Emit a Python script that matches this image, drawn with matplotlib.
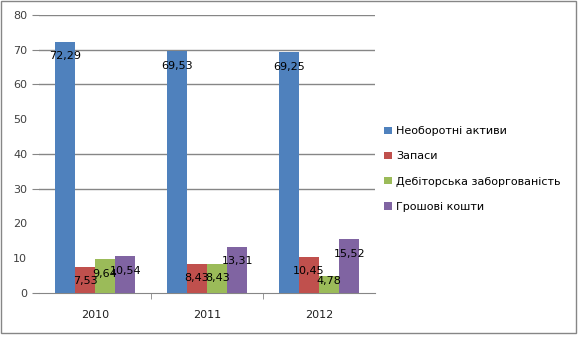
#!/usr/bin/env python3
import matplotlib
matplotlib.use('Agg')
import matplotlib.pyplot as plt
import numpy as np
from matplotlib.patches import Rectangle

years = ['2010', '2011', '2012']
series_names = ['Необоротні активи', 'Запаси', 'Дебіторська заборгованість', 'Грошові кошти']
noncurrent = [72.29, 69.53, 69.25]
stocks = [7.53, 8.43, 10.45]
receivables = [9.64, 8.43, 4.78]
cash = [10.54, 13.31, 15.52]
colors = ['#4F81BD', '#C0504D', '#9BBB59', '#8064A2']

def fmt(v):
    return f'{v:.2f}'.replace('.', ',')

fig = plt.figure(figsize=(5.78, 3.37), dpi=100)
ax = fig.add_axes([0.0675, 0.1306, 0.5815, 0.8249])

x = np.arange(len(years))
w = 0.18
all_series = [noncurrent, stocks, receivables, cash]
for i, (vals, name, c) in enumerate(zip(all_series, series_names, colors)):
    pos = x + (i - 1.5) * w
    ax.bar(pos, vals, w, color=c, label=name, zorder=3)
    for px, v in zip(pos, vals):
        # inside-end labels, like the spreadsheet does it
        off = -4.2 if v > 6 else -1.2
        ax.text(px, v + off, fmt(v), ha='center', va='center', fontsize=8,
                color='black', zorder=4)

ax.set_xlim(-0.5, 2.5)
ax.set_ylim(0, 80)
ax.set_yticks(range(0, 81, 10))
ax.set_xticks([0.5, 1.5], minor=True)
ax.set_xticks(x)
ax.set_xticklabels(years)
grid_at = [30, 40, 60, 70, 80]
for gy in grid_at:
    ax.axhline(gy, color='#868686', lw=1, zorder=1)

for s in ['top', 'right', 'left']:
    ax.spines[s].set_visible(False)
ax.spines['bottom'].set_color('#868686')
ax.tick_params(axis='y', colors='#868686', labelcolor='#404040', labelsize=8, length=5, direction='out')
ax.tick_params(axis='x', which='major', length=0, labelsize=8, labelcolor='#202020', pad=12)
ax.tick_params(axis='x', which='minor', length=4, color='#868686', direction='out')
for t, val in zip(ax.yaxis.get_major_ticks(), range(0, 81, 10)):
    if val not in grid_at and val != 0:
        t.tick1line.set_visible(False)

ax.legend(loc='center left', bbox_to_anchor=(0.996, 0.446), frameon=False, fontsize=8,
          handlelength=0.7, handleheight=0.7, labelspacing=1.35, handletextpad=0.4)

fig.patches.append(Rectangle((0.002, 0.012), 0.994, 0.985, transform=fig.transFigure,
                             fill=False, edgecolor='#868686', lw=1))

fig.savefig('out.png', dpi=100)
